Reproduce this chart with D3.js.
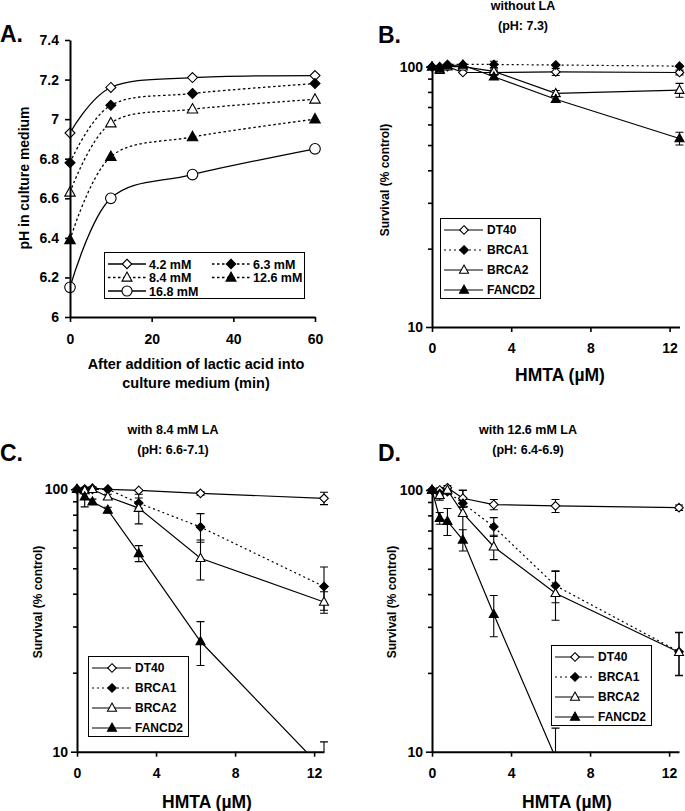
<!DOCTYPE html>
<html><head><meta charset="utf-8">
<script src="https://cdn.jsdelivr.net/npm/d3@7"></script>
<style>
html,body{margin:0;padding:0;background:#fff;}
svg text{font-family:"Liberation Sans",Arial,Helvetica,sans-serif;font-weight:bold;fill:#000;}
</style></head>
<body><svg id="c" width="685" height="811"></svg>
<script>
// ---------- Panel A data ----------
const timesA = [0, 10, 30, 60];
const laLabels = ["4.2 mM", "6.3 mM", "8.4 mM", "12.6 mM", "16.8 mM"];
const ph42 = [6.93, 7.16, 7.21, 7.22];
const ph63 = [6.78, 7.07, 7.13, 7.18];
const ph84 = [6.63, 6.98, 7.05, 7.10];
const ph126 = [6.39, 6.81, 6.91, 7.00];
const ph168 = [6.15, 6.60, 6.72, 6.85];
const phTicks = [6, 6.2, 6.4, 6.6, 6.8, 7, 7.2, 7.4];
const timeTicks = [0, 20, 40, 60];

// ---------- Survival data (HMTA µM) ----------
const doses = [0, 0.39, 0.78, 1.56, 3.125, 6.25, 12.5];
const doseTicks = [0, 4, 8, 12];
const survTicks = [10, 20, 30, 40, 50, 60, 70, 80, 90, 100];
const lines = ["DT40", "BRCA1", "BRCA2", "FANCD2"];

// B: without LA
const B_DT40 = [100, 98, 100, 95, 95, 95.5, 95];
const B_DT40_err = [1, 1, 1, 1, 2, 3, 2];
const B_BRCA1 = [100, 100, 102, 102, 102, 101.5, 100.5];
const B_BRCA1_err = [0.5, 0.5, 1, 1, 3, 1, 1];
const B_BRCA2 = [100, 97, 100, 100, 96, 79, 81.3];
const B_BRCA2_err = [1, 1, 1, 1, 3, 2, 5];
const B_FANCD2 = [100, 98, 101, 101.5, 91.5, 75, 53];
const B_FANCD2_err = [1, 1, 1, 1, 2, 2, 3];

// C: with 8.4 mM LA
const C_DT40 = [100, 100, 101, 100, 99, 96.5, 92.4];
const C_DT40_err = [1, 1, 1, 1, 1, 1.5, 5];
const C_BRCA1 = [100, 100, 100, 100, 88.6, 71.8, 42.6];
const C_BRCA1_err = [1, 1, 2, 1, 4, 9, 8];
const C_BRCA2 = [100, 99, 100, 93.7, 84.8, 54.6, 37.2];
const C_BRCA2_err = [1, 2, 2, 2, 11, 9.5, 3.5];
const C_FANCD2 = [100, 93.7, 89.7, 83.4, 57, 26.3, 8.5];
const C_FANCD2_err = [1, 8, 2, 2, 4, 5, 2.4];

// D: with 12.6 mM LA
const D_DT40 = [100, 100, 102, 93, 88, 87, 85.6];
const D_DT40_err = [1, 2, 2, 7, 4, 5, 2];
const D_BRCA1 = [100, 97, 98.5, 89, 72.4, 43.1, 24.1];
const D_BRCA1_err = [1, 2, 2, 3, 6, 6, 4.5];
const D_BRCA2 = [100, 95.5, 100, 81.5, 60.7, 40.3, 24];
const D_BRCA2_err = [1, 4, 2, 18, 6.5, 8.5, 4.5];
const D_FANCD2 = [100, 78, 76, 64.5, 33.5, 9.5, null];
const D_FANCD2_err = [1, 4, 9, 6, 6, 2.8, null];

const svg = d3.select("#c");

// ---------- marker helper ----------
function marker(g, type, filled, cx, cy, s) {
  let p;
  if (type === "diamond") {
    p = `M${cx},${cy - s}L${cx + s},${cy}L${cx},${cy + s}L${cx - s},${cy}Z`;
    g.append("path").attr("d", p);
  } else if (type === "triangle") {
    const h = s * 1.9, w = s * 1.05;
    p = `M${cx},${cy - h * 0.6}L${cx + w},${cy + h * 0.4}L${cx - w},${cy + h * 0.4}Z`;
    g.append("path").attr("d", p);
  } else {
    g.append("circle").attr("cx", cx).attr("cy", cy).attr("r", s);
  }
  g.selectAll(":scope > *:last-child")
    .attr("fill", filled ? "#000" : "#fff")
    .attr("stroke", "#000").attr("stroke-width", 1.1);
}

function styleAxis(ax) {
  ax.select(".domain").attr("stroke", "#000").attr("stroke-width", 2);
  ax.selectAll(".tick line").attr("stroke", "#000").attr("stroke-width", 1.6);
  ax.selectAll(".tick text").attr("font-size", 14).attr("fill", "#000")
    .attr("font-family", "Liberation Sans, Arial, sans-serif").attr("font-weight", "bold");
}

function label(txt, x, y, size, anchor, rot) {
  const t = svg.append("text").attr("x", x).attr("y", y).attr("font-size", size)
    .attr("text-anchor", anchor || "middle").text(txt);
  if (rot) t.attr("transform", `rotate(${rot},${x},${y})`);
  return t;
}

// ================= Panel A =================
{
  const x = d3.scaleLinear([0, 60], [70, 315]);
  const y = d3.scaleLinear([6, 7.4], [317, 40]);
  const g = svg.append("g");
  const series = [
    { v: ph42, type: "diamond", filled: false, dash: null, s: 5 },
    { v: ph63, type: "diamond", filled: true, dash: "2.5,2.5", s: 5 },
    { v: ph84, type: "triangle", filled: false, dash: "2.5,2.5", s: 5 },
    { v: ph126, type: "triangle", filled: true, dash: "2.5,2.5", s: 5 },
    { v: ph168, type: "circle", filled: false, dash: null, s: 5.3 },
  ];
  const line = d3.line().x((d, i) => x(timesA[i])).y(d => y(d)).curve(d3.curveCatmullRom.alpha(0));
  series.forEach(s => {
    g.append("path").attr("d", line(s.v)).attr("fill", "none").attr("stroke", "#000")
      .attr("stroke-width", 1.3).attr("stroke-dasharray", s.dash);
  });
  series.forEach(s => {
    s.v.forEach((d, i) => marker(g, s.type, s.filled, x(timesA[i]), y(d), s.s));
  });
  const ax = svg.append("g").attr("transform", "translate(0,317)")
    .call(d3.axisBottom(x).tickValues(timeTicks).tickSize(5).tickPadding(12).tickSizeOuter(0));
  styleAxis(ax);
  const ay = svg.append("g").attr("transform", "translate(70,0)")
    .call(d3.axisLeft(y).tickValues(phTicks).tickSize(5).tickPadding(6).tickSizeOuter(0)
      .tickFormat(d => String(+d.toFixed(1))));
  styleAxis(ay);
  label("After addition of lactic acid into", 196, 369, 14.5);
  label("culture medium (min)", 196, 388, 14.5);
  label("pH in culture medium", 29, 178, 14, "middle", -90);
  label("A.", 0, 42, 23, "start");

  // legend
  const lg = svg.append("g");
  lg.append("rect").attr("x", 104.5).attr("y", 252.5).attr("width", 200).attr("height", 46)
    .attr("fill", "#fff").attr("stroke", "#000").attr("stroke-width", 1);
  const pos = [[108, 264], [212, 264], [108, 277.5], [212, 277.5], [108, 291]];
  series.forEach((s, i) => {
    const [lx, ly] = pos[i];
    lg.append("line").attr("x1", lx).attr("x2", lx + 38).attr("y1", ly).attr("y2", ly)
      .attr("stroke", "#000").attr("stroke-width", 1.3).attr("stroke-dasharray", s.dash);
    marker(lg, s.type, s.filled, lx + 19, ly, s.s * 0.95);
    lg.append("text").attr("x", lx + 41).attr("y", ly + 4.5).attr("font-size", 12.5).text(laLabels[i]);
  });
}

// ================= Survival panels =================
function survivalPanel(cfg) {
  const x = d3.scaleLinear([0, 12.5], [cfg.x0, cfg.x1]);
  const y = d3.scaleLog([10, 100], [cfg.yb, cfg.yt]);
  const id = "clip" + cfg.letter;
  svg.append("clipPath").attr("id", id).append("rect")
    .attr("x", cfg.x0 - 20).attr("y", cfg.yt - 40).attr("width", 700).attr("height", cfg.yb - cfg.yt + 40);
  const g = svg.append("g").attr("clip-path", `url(#${id})`);
  const styles = [
    { type: "diamond", filled: false, dash: null },
    { type: "diamond", filled: true, dash: "2,3" },
    { type: "triangle", filled: false, dash: null },
    { type: "triangle", filled: true, dash: null },
  ];
  const line = d3.line().defined(d => d[1] != null).x(d => x(d[0])).y(d => y(d[1]));
  cfg.series.forEach((s, k) => {
    const pts = doses.map((d, i) => [d, s.v[i]]);
    g.append("path").attr("d", line(pts)).attr("fill", "none").attr("stroke", "#000")
      .attr("stroke-width", 1.2).attr("stroke-dasharray", styles[k].dash);
  });
  cfg.series.forEach(s => {
    doses.forEach((d, i) => {
      if (s.v[i] == null || !s.e[i] || s.e[i] < 1.5) return;
      const cx = x(d), top = y(s.v[i] + s.e[i]), bot = y(Math.max(s.v[i] - s.e[i], 1));
      g.append("line").attr("x1", cx).attr("x2", cx).attr("y1", top).attr("y2", bot)
        .attr("stroke", "#000").attr("stroke-width", 1.1);
      [top, bot].forEach(yy => g.append("line").attr("x1", cx - 4).attr("x2", cx + 4)
        .attr("y1", yy).attr("y2", yy).attr("stroke", "#000").attr("stroke-width", 1.1));
    });
  });
  cfg.series.forEach((s, k) => {
    doses.forEach((d, i) => {
      if (s.v[i] == null) return;
      marker(g, styles[k].type, styles[k].filled, x(d), y(s.v[i]), 4.3);
    });
  });
  // axes
  const ax = svg.append("g").attr("transform", `translate(0,${cfg.yb})`)
    .call(d3.axisBottom(x).tickValues(doseTicks).tickSize(5).tickPadding(11).tickSizeOuter(0));
  styleAxis(ax);
  const ay = svg.append("g").attr("transform", `translate(${cfg.x0},0)`)
    .call(d3.axisLeft(y).tickValues(survTicks).tickSize(5).tickPadding(4).tickSizeOuter(0)
      .tickFormat(d => (d === 10 || d === 100) ? String(d) : ""));
  styleAxis(ay);
  ay.selectAll(".tick line").attr("x2", d => (d === 10 || d === 100) ? -6 : -4);

  // titles and labels
  label(cfg.title1, cfg.tx, cfg.ty, 12.5);
  label(cfg.title2, cfg.tx, cfg.ty + 20, 12.5);
  label(cfg.letter + ".", cfg.lx, cfg.ly, 23, "start");
  label("Survival (% control)", cfg.ylx, cfg.yly, 12, "middle", -90);
  label("HMTA (\u00b5M)", cfg.xlx, cfg.xly, 17.5);

  // legend
  const lg = svg.append("g");
  lg.append("rect").attr("x", cfg.legX + 0.5).attr("y", cfg.legY + 0.5).attr("width", 100).attr("height", 80)
    .attr("fill", "#fff").attr("stroke", "#000").attr("stroke-width", 1);
  lines.forEach((nm, k) => {
    const ly = cfg.legY + 12 + k * 20;
    const lx = cfg.legX + 4;
    lg.append("line").attr("x1", lx).attr("x2", lx + 39).attr("y1", ly).attr("y2", ly)
      .attr("stroke", "#000").attr("stroke-width", 1.2).attr("stroke-dasharray", styles[k].dash);
    marker(lg, styles[k].type, styles[k].filled, lx + 20, ly, 4.3);
    lg.append("text").attr("x", lx + 43).attr("y", ly + 4.3).attr("font-size", 12).text(nm);
  });
}

survivalPanel({
  letter: "B", x0: 432, x1: 679.5, yb: 327, yt: 66.7,
  title1: "without LA", title2: "(pH: 7.3)", tx: 523, ty: 10, lx: 378, ly: 43,
  ylx: 389, yly: 180, xlx: 560, xly: 381, legX: 440, legY: 218,
  series: [
    { v: B_DT40, e: B_DT40_err }, { v: B_BRCA1, e: B_BRCA1_err },
    { v: B_BRCA2, e: B_BRCA2_err }, { v: B_FANCD2, e: B_FANCD2_err }]
});
survivalPanel({
  letter: "C", x0: 77, x1: 324, yb: 751.7, yt: 489.3,
  title1: "with 8.4 mM LA", title2: "(pH: 6.6-7.1)", tx: 173, ty: 434, lx: 0, ly: 461,
  ylx: 42, yly: 602, xlx: 207, xly: 808, legX: 88, legY: 656,
  series: [
    { v: C_DT40, e: C_DT40_err }, { v: C_BRCA1, e: C_BRCA1_err },
    { v: C_BRCA2, e: C_BRCA2_err }, { v: C_FANCD2, e: C_FANCD2_err }]
});
survivalPanel({
  letter: "D", x0: 432, x1: 679, yb: 751.7, yt: 490,
  title1: "with 12.6 mM LA", title2: "(pH: 6.4-6.9)", tx: 528, ty: 434, lx: 378, ly: 461,
  ylx: 396, yly: 602, xlx: 567, xly: 808, legX: 551, legY: 645,
  series: [
    { v: D_DT40, e: D_DT40_err }, { v: D_BRCA1, e: D_BRCA1_err },
    { v: D_BRCA2, e: D_BRCA2_err }, { v: D_FANCD2, e: D_FANCD2_err }]
});
</script></body></html>
